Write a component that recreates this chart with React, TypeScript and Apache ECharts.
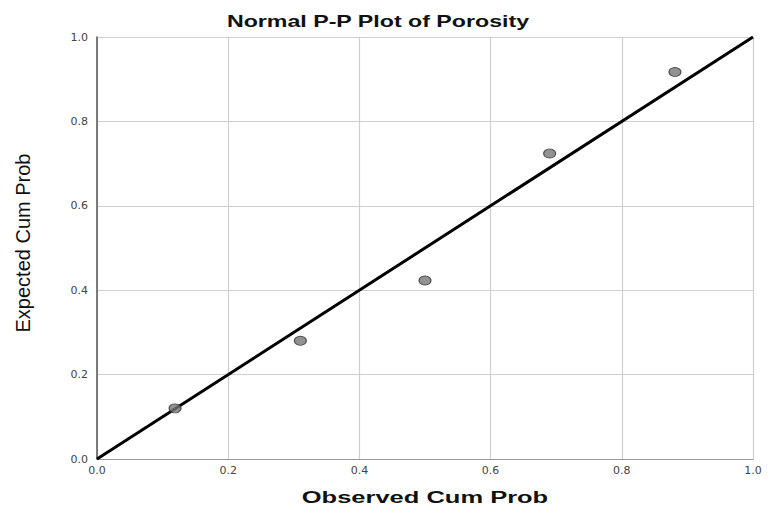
import React, { useEffect, useRef } from "react";
import * as echarts from "echarts";

const titleText = "Normal P-P Plot of Porosity";
const xName = "Observed Cum Prob";
const yName = "Expected Cum Prob";
const observed = [0.119, 0.31, 0.5, 0.69, 0.881];
const expected = [0.12, 0.28, 0.423, 0.724, 0.917];
const refLine = [
  [0, 0],
  [1, 1],
];

export default function App() {
  const ref = useRef<HTMLDivElement>(null);
  useEffect(() => {
    const chart = echarts.init(ref.current!, undefined, { renderer: "svg" });
    const labelStyle = {
      color: "#444",
      fontSize: 11,
      fontFamily: "DejaVu Sans, sans-serif",
      formatter: (v: number) => v.toFixed(1),
    };
    const split = { show: true, lineStyle: { color: "#cfcfcf", width: 1.2 } };
    chart.setOption({
      animation: false,
      backgroundColor: "#fff",
      graphic: [
        {
          type: "text",
          x: 378,
          y: 21,
          scaleX: 1.45,
          style: {
            text: titleText,
            align: "center",
            verticalAlign: "middle",
            fontSize: 16,
            fontWeight: "bold",
            fontFamily: "Liberation Sans, Arial, sans-serif",
            fill: "#111",
          },
        },
        {
          type: "text",
          x: 425,
          y: 497,
          scaleX: 1.5,
          style: {
            text: xName,
            align: "center",
            verticalAlign: "middle",
            fontSize: 17,
            fontWeight: "bold",
            fontFamily: "Liberation Sans, Arial, sans-serif",
            fill: "#111",
          },
        },
        {
          type: "text",
          x: 23,
          y: 243,
          rotation: Math.PI / 2,
          style: {
            text: yName,
            align: "center",
            verticalAlign: "middle",
            fontSize: 20,
            fontFamily: "Liberation Sans, Arial, sans-serif",
            fill: "#111",
          },
        },
      ],
      grid: { left: 97, right: 18, top: 37, bottom: 54 },
      xAxis: {
        type: "value",
        min: 0,
        max: 1,
        interval: 0.2,
        axisTick: { show: false },
        splitLine: split,
        axisLine: { show: true, lineStyle: { color: "#999", width: 1.2 } },
        axisLabel: { ...labelStyle, margin: 6 },
      },
      yAxis: {
        type: "value",
        min: 0,
        max: 1,
        interval: 0.2,
        axisTick: { show: false },
        splitLine: split,
        axisLine: { show: true, lineStyle: { color: "#555", width: 1.5 } },
        axisLabel: { ...labelStyle, margin: 9 },
      },
      series: [
        {
          type: "line",
          data: refLine,
          symbol: "none",
          lineStyle: { color: "#000", width: 3 },
          z: 2,
        },
        {
          type: "scatter",
          data: observed.map((o, i) => [o, expected[i]]),
          symbol: "circle",
          symbolSize: [12, 9],
          itemStyle: { color: "#777", borderColor: "#333", borderWidth: 1 },
          z: 3,
        },
      ],
    });
    return () => chart.dispose();
  }, []);
  return (
    <div
      ref={ref}
      style={{ position: "fixed", left: 0, top: 0, width: 771, height: 513 }}
    />
  );
}
